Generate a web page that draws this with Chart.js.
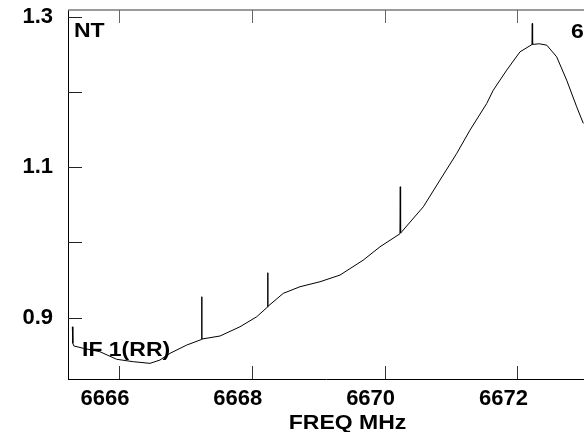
<!DOCTYPE html>
<html>
<head>
<meta charset="utf-8">
<script src="https://cdn.jsdelivr.net/npm/chart.js@4/dist/chart.umd.min.js"></script>
<style>
html,body{margin:0;padding:0;background:#fff;overflow:hidden;}
#wrap{width:584px;height:432px;position:relative;}
</style>
</head>
<body>
<div id="wrap"><canvas id="c" width="584" height="432"></canvas></div>
<script>
// Frequency (MHz)
const freqMHz = [
  6665.297, 6665.305, 6665.320, 6665.462, 6665.714, 6665.965, 6666.215, 6666.467,
  6666.617, 6666.768, 6667.020, 6667.240, 6667.245, 6667.250, 6667.521, 6667.822,
  6668.074, 6668.234, 6668.239, 6668.244, 6668.474, 6668.726, 6669.027, 6669.328,
  6669.679, 6669.931, 6670.231, 6670.236, 6670.241, 6670.583, 6670.834, 6671.086,
  6671.286, 6671.538, 6671.637, 6671.839, 6672.039, 6672.219, 6672.224, 6672.229,
  6672.330, 6672.442, 6672.592, 6672.742, 6672.893, 6672.993
];
// Intensity values
const intensity = [
  0.888, 0.866, 0.8625, 0.8594, 0.8548, 0.8448, 0.8416, 0.8394,
  0.8438, 0.8527, 0.8637, 0.8710, 0.9279, 0.8717, 0.8757, 0.8880,
  0.9013, 0.9140, 0.9598, 0.9150, 0.9324, 0.9412, 0.9478, 0.9567,
  0.9766, 0.9943, 1.0115, 1.0740, 1.0125, 1.0474, 1.0829, 1.1183,
  1.1493, 1.1847, 1.2024, 1.2290, 1.2533, 1.2630, 1.2910, 1.2632,
  1.2640, 1.2622, 1.2466, 1.2157, 1.1802, 1.1582
];
const yLabelValues = [0.9, 1.1, 1.3];
const xAxisTitle = 'FREQ MHz';
const topLeftLabel = 'NT';
const bottomLeftLabel = 'IF 1(RR)';
const topRightLabel = '6';

const points = freqMHz.map((f, i) => ({x: f, y: intensity[i]}));
const tickFont = {family: '"Liberation Sans", Arial, sans-serif', size: 22, weight: 'bold'};

const decor = {
  id: 'decor',
  afterDraw(chart) {
    const ctx = chart.ctx;
    const a = chart.chartArea;
    const xs = chart.scales.x, ys = chart.scales.y;
    ctx.save();
    // top frame line
    ctx.strokeStyle = '#7a7a7a';
    ctx.lineWidth = 1.5;
    ctx.beginPath(); ctx.moveTo(a.left, a.top); ctx.lineTo(a.right, a.top); ctx.stroke();
    ctx.lineWidth = 1;
    // y ticks (inward)
    ys.ticks.forEach(t => {
      const py = Math.round(ys.getPixelForValue(t.value)) + 0.5;
      ctx.strokeStyle = '#222';
      ctx.beginPath(); ctx.moveTo(a.left, py); ctx.lineTo(a.left + 14, py); ctx.stroke();
    });
    // x ticks bottom and top (inward)
    xs.ticks.forEach(t => {
      const px = Math.round(xs.getPixelForValue(t.value)) + 0.5;
      ctx.strokeStyle = '#333';
      ctx.beginPath(); ctx.moveTo(px, a.bottom); ctx.lineTo(px, a.bottom - 13); ctx.stroke();
      ctx.strokeStyle = '#666';
      ctx.beginPath(); ctx.moveTo(px, a.top); ctx.lineTo(px, a.top + 13); ctx.stroke();
    });
    // texts
    ctx.fillStyle = '#000';
    ctx.font = 'bold 20px "Liberation Sans", Arial, sans-serif';
    ctx.textBaseline = 'alphabetic';
    function stretched(text, x, y, align) {
      ctx.save();
      ctx.translate(x, y);
      ctx.scale(1.15, 1);
      ctx.textAlign = align;
      ctx.fillText(text, 0, 0);
      ctx.restore();
    }
    stretched(topLeftLabel, 74, 37, 'left');
    stretched(bottomLeftLabel, 82, 356, 'left');
    stretched(xAxisTitle, 347.5, 429, 'center');
    stretched(topRightLabel, 571, 38, 'left');
    ctx.restore();
  }
};

new Chart(document.getElementById('c'), {
  type: 'line',
  data: {
    datasets: [{
      data: points,
      borderColor: '#000',
      borderWidth: 1,
      pointRadius: 0,
      tension: 0,
      fill: false
    }]
  },
  options: {
    responsive: false,
    animation: false,
    events: [],
    layout: {padding: {top: 10, left: 0, right: 0, bottom: 0}},
    plugins: {legend: {display: false}, tooltip: {enabled: false}, title: {display: false}},
    scales: {
      x: {
        type: 'linear',
        min: 6665.232,
        max: 6673.003,
        grid: {display: false, drawTicks: false},
        border: {display: true, color: '#000', width: 1},
        ticks: {
          stepSize: 2,
          includeBounds: false,
          autoSkip: false,
          maxRotation: 0,
          color: '#000',
          font: tickFont,
          padding: 7,
          labelOffset: -14,
          callback: v => String(Math.round(v))
        },
        afterFit(s) { s.height = 53; s.paddingLeft = 0; s.paddingRight = 0; }
      },
      y: {
        type: 'linear',
        min: 0.8186,
        max: 1.3089,
        grid: {display: false, drawTicks: false},
        border: {display: true, color: '#000', width: 1},
        ticks: {
          stepSize: 0.1,
          includeBounds: false,
          autoSkip: false,
          color: '#000',
          font: tickFont,
          padding: 15,
          callback: v => {
            const r = Math.round(v * 10) / 10;
            return yLabelValues.some(l => Math.abs(l - r) < 1e-6) ? r.toFixed(1) : '';
          }
        },
        afterFit(s) { s.width = 68; s.paddingTop = 0; s.paddingBottom = 0; }
      }
    }
  },
  plugins: [decor]
});
</script>
</body>
</html>
